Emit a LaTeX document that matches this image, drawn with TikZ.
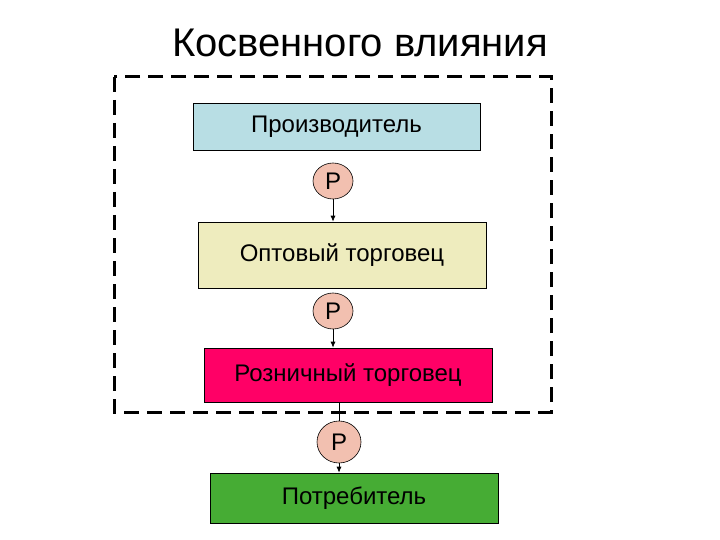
\documentclass[tikz,border=0pt]{standalone}
\usepackage{fontspec}
\setmainfont{Liberation Sans}
\usetikzlibrary{arrows.meta,shapes.geometric}

\begin{document}
\begin{tikzpicture}[
  x=1pt, y=-1pt,
  font=\fontsize{24}{26}\selectfont,
  block/.style={rectangle, draw, line width=0.6pt, align=center,
                minimum width=287pt, minimum height=47pt, inner sep=0pt},
  price/.style={ellipse, draw, line width=0.6pt, fill=pricecol,
                minimum width=40pt, minimum height=36pt, inner sep=0pt},
  arr/.style={-{Latex[length=6pt,width=5pt]}, line width=0.8pt},
  frame/.style={draw, line width=3pt, dash pattern=on 15pt off 8pt},
]
\definecolor{prodcol}{RGB}{184,222,228}
\definecolor{optcol}{RGB}{238,236,190}
\definecolor{rozncol}{RGB}{255,0,102}
\definecolor{potrcol}{RGB}{70,172,52}
\definecolor{pricecol}{RGB}{242,192,176}

\useasboundingbox (0,0) rectangle (720,540);

% title
\node[font=\fontsize{40}{44}\selectfont] (title) at (360,43) {Косвенного влияния};

% channel frame
\draw[frame] (114,77) rectangle (551,412);

% chain
\node[block, fill=prodcol] (prod) at (336.5,126.5) {Производитель};
\node[price] (p1) at (333,181) {Р};
\node[block, fill=optcol, minimum width=288pt, minimum height=66pt]
                           (opt)  at (342,255) {Оптовый торговец};
\node[price] (p2) at (333,311) {Р};
\node[block, fill=rozncol, minimum width=288pt, minimum height=54pt]
                           (rozn) at (348,375) {Розничный торговец};
\node[price, minimum width=44pt, minimum height=42pt]
                           (p3)   at (339,442) {Р};
\node[block, fill=potrcol, minimum width=288pt, minimum height=50pt]
                           (potr) at (354,498) {Потребитель};

\draw[arr] (p1.south) -- (p1.south |- opt.north);
\draw[arr] (p2.south) -- (p2.south |- rozn.north);
\draw[line width=0.6pt] (rozn.south -| p3) -- (p3.north);
\draw[arr] (p3.south) -- (p3.south |- potr.north);

\end{tikzpicture}
\end{document}
